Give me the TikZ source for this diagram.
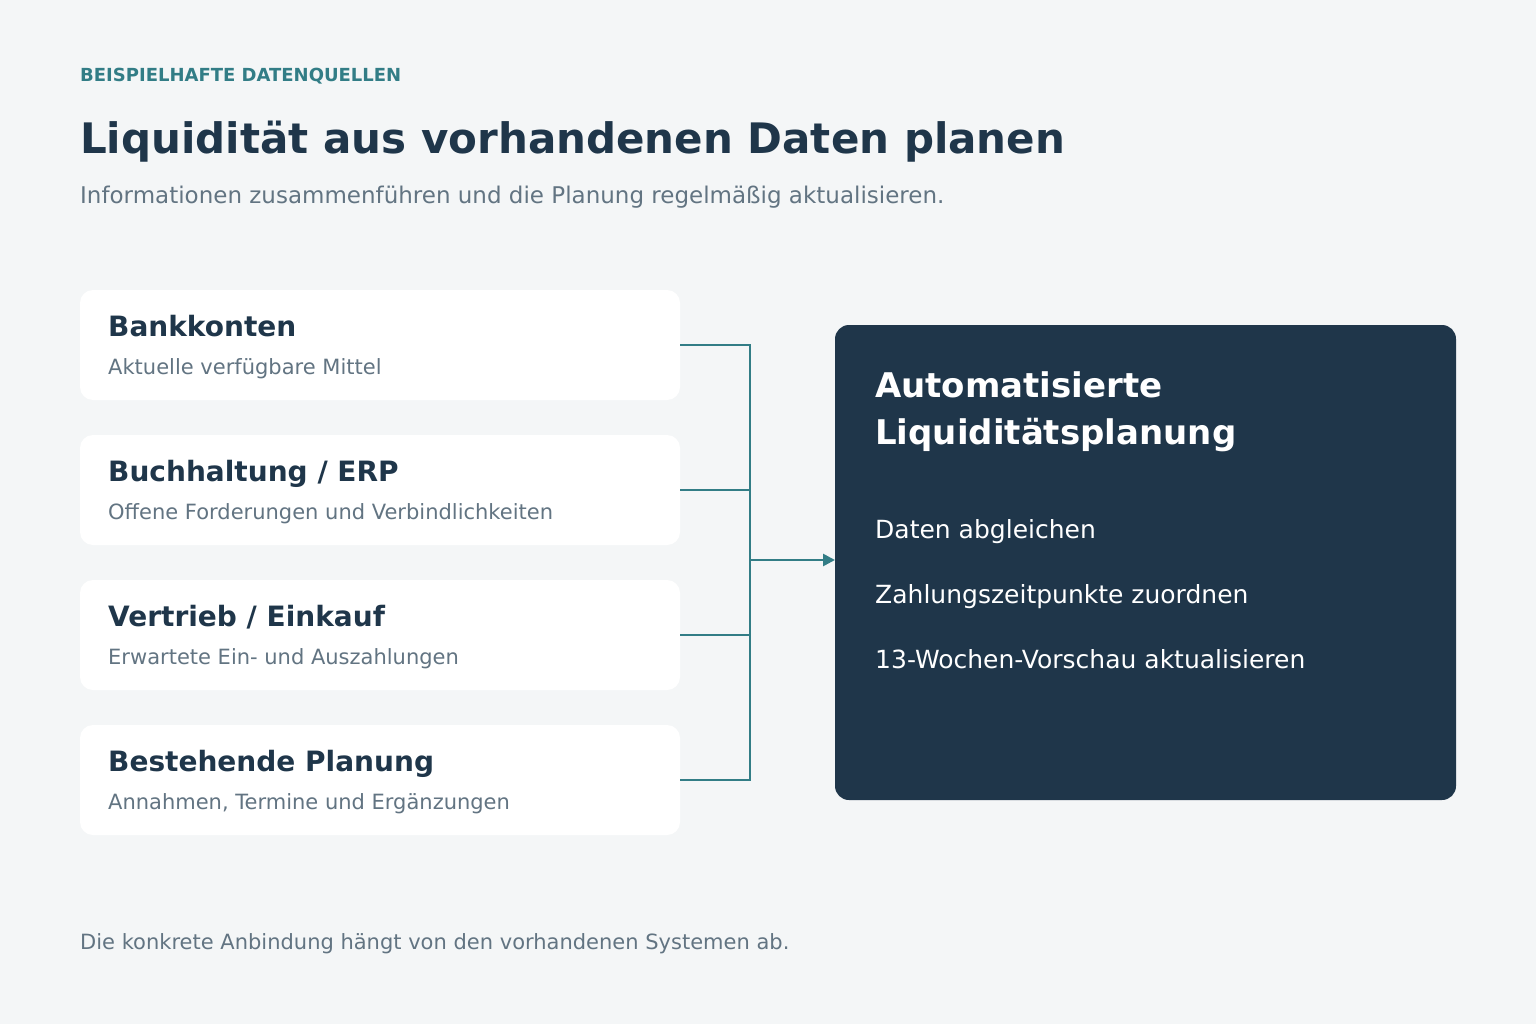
\documentclass[tikz,border=0pt]{standalone}
\usepackage{fontspec}
\setmainfont{DejaVu Sans}
\usetikzlibrary{arrows.meta}
\definecolor{bgc}{HTML}{F4F6F7}
\definecolor{navy}{HTML}{1F364A}
\definecolor{teal}{HTML}{327D86}
\definecolor{graytxt}{HTML}{627482}
\tikzset{
  srcbox/.style={fill=white, rounded corners=13pt, draw=none},
  srctitle/.style={anchor=base west, inner sep=0pt, text=navy, font=\fontsize{28}{34}\selectfont\bfseries},
  srcsub/.style={anchor=base west, inner sep=0pt, text=graytxt, font=\fontsize{21}{25}\selectfont},
  link/.style={draw=teal, line width=2.6pt},
  item/.style={anchor=base west, inner sep=0pt, text=white, font=\fontsize{25}{30}\selectfont},
}
\begin{document}
\begin{tikzpicture}[x=1pt,y=-1pt]
\useasboundingbox (0,0) rectangle (1536,1024);
\fill[bgc] (0,0) rectangle (1536,1024);
\node[anchor=base west, inner sep=0pt, text=teal, font=\fontsize{18}{22}\selectfont\bfseries] (eyebrow) at (80,82) {BEISPIELHAFTE DATENQUELLEN};
\node[anchor=base west, inner sep=0pt, text=navy, font=\fontsize{42}{50}\selectfont\bfseries] (title) at (80,154) {Liquidität aus vorhandenen Daten planen};
\node[anchor=base west, inner sep=0pt, text=graytxt, font=\fontsize{23}{27}\selectfont] (subtitle) at (80,204) {Informationen zusammenführen und die Planung regelmäßig aktualisieren.};

\path[srcbox] (80,290) rectangle (680,400);
\path[srcbox] (80,435) rectangle (680,545);
\path[srcbox] (80,580) rectangle (680,690);
\path[srcbox] (80,725) rectangle (680,835);
\coordinate (b1) at (680,345);
\coordinate (b2) at (680,490);
\coordinate (b3) at (680,635);
\coordinate (b4) at (680,780);
\node[srctitle] (t1) at (108,336) {Bankkonten};
\node[srcsub] (s1) at (108,374) {Aktuelle verfügbare Mittel};
\node[srctitle] (t2) at (108,481) {Buchhaltung / ERP};
\node[srcsub] (s2) at (108,519) {Offene Forderungen und Verbindlichkeiten};
\node[srctitle] (t3) at (108,626) {Vertrieb / Einkauf};
\node[srcsub] (s3) at (108,664) {Erwartete Ein- und Auszahlungen};
\node[srctitle] (t4) at (108,771) {Bestehende Planung};
\node[srcsub] (s4) at (108,809) {Annahmen, Termine und Ergänzungen};

\fill[navy, rounded corners=14pt] (835,325) rectangle (1456,800);
\coordinate (target) at (835,560);
\coordinate (j1) at (750,345);
\coordinate (j4) at (750,780);
\coordinate (jm) at (750,560);
\draw[link] (b1) -- (j1) -- (j4) -- (b4);
\draw[link] (b2) -- (750,490);
\draw[link] (b3) -- (750,635);
\draw[link, -{Triangle[length=12pt,width=12pt]}] (jm) -- (target);

\node[anchor=base west, inner sep=0pt, text=white, font=\fontsize{34}{47}\selectfont\bfseries] (dt1) at (875,397) {Automatisierte};
\node[anchor=base west, inner sep=0pt, text=white, font=\fontsize{34}{47}\selectfont\bfseries] (dt2) at (875,444) {Liquiditätsplanung};
\node[item] (i1) at (875,538) {Daten abgleichen};
\node[item] (i2) at (875,603) {Zahlungszeitpunkte zuordnen};
\node[item] (i3) at (875,668) {13-Wochen-Vorschau aktualisieren};

\node[anchor=base west, inner sep=0pt, text=graytxt, font=\fontsize{21}{25}\selectfont] (foot) at (80,949) {Die konkrete Anbindung hängt von den vorhandenen Systemen ab.};
\end{tikzpicture}
\end{document}
